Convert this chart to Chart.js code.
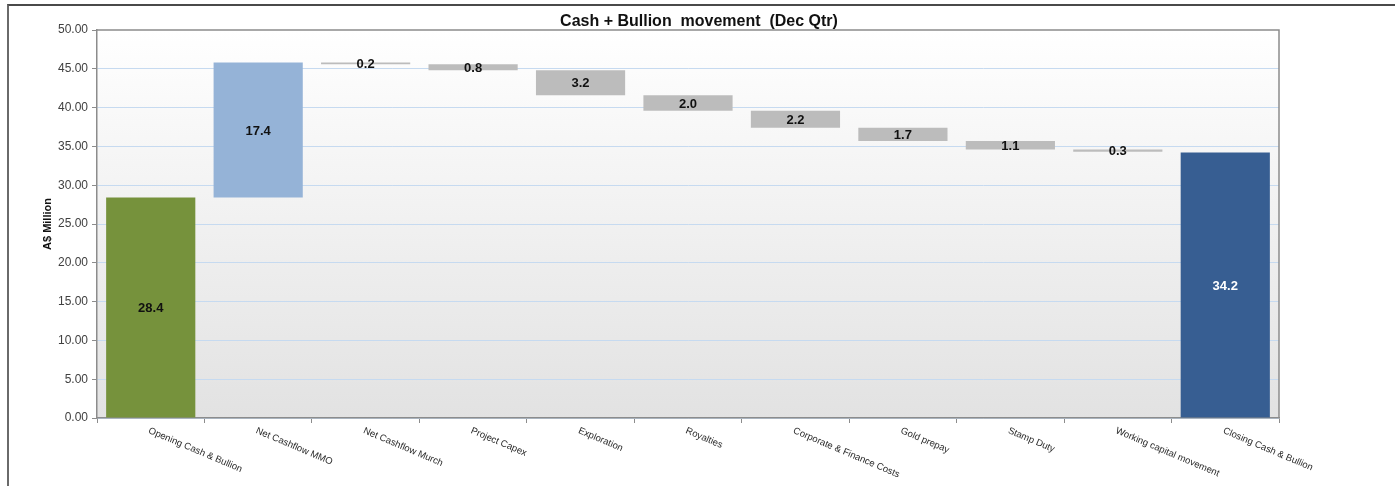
<!DOCTYPE html>
<html>
<head>
<meta charset="utf-8">
<script src="https://cdn.jsdelivr.net/npm/chart.js@4/dist/chart.umd.min.js"></script>
<style>
    body { margin: 0; background: #fff; }
    #wrap { position: relative; width: 1395px; height: 486px; }
    #frame { position: absolute; left: 7px; top: 4px; width: 1386px; height: 482px;
             border-top: 2px solid #4a4a4a; border-left: 2px solid #6a6a6a; pointer-events: none; }
</style>
</head>
<body>
<div id="wrap">
    <canvas id="waterfall" width="1395" height="486"></canvas>
    <div id="frame"></div>
</div>
<script>
const chartTitle = 'Cash + Bullion  movement  (Dec Qtr)';
const categories = [
    'Opening Cash & Bullion', 'Net Cashflow MMO', 'Net Cashflow Murch', 'Project Capex',
    'Exploration', 'Royalties', 'Corporate & Finance Costs', 'Gold prepay',
    'Stamp Duty', 'Working capital movement', 'Closing Cash & Bullion'
];
const openingBalance = 28.4;
const movements = [17.4, -0.2, -0.8, -3.2, -2.0, -2.2, -1.7, -1.1, -0.3];
const closingBalance = 34.2;
const yTickValues = [0, 5, 10, 15, 20, 25, 30, 35, 40, 45, 50];

document.addEventListener('DOMContentLoaded', () => {
    const FONT = 'Arial, "Liberation Sans", sans-serif';

    // floating [from, to] ranges for the waterfall
    const ranges = [[0, openingBalance]];
    let running = openingBalance;
    movements.forEach(m => {
        const next = Math.round((running + m) * 10) / 10;
        ranges.push([running, next]);
        running = next;
    });
    ranges.push([0, closingBalance]);
    const shownValues = [openingBalance, ...movements, closingBalance];

    const last = categories.length - 1;
    const barColor = i => {
        if (i === 0) return '#76923c';
        if (i === last) return '#375e92';
        return shownValues[i] >= 0 ? '#95b3d7' : '#bcbcbc';
    };

    const plotBackground = {
        id: 'plotBackground',
        beforeDraw(chart) {
            const { ctx, chartArea: a } = chart;
            const g = ctx.createLinearGradient(0, a.top, 0, a.bottom);
            g.addColorStop(0, '#ffffff');
            g.addColorStop(1, '#e2e2e2');
            ctx.save();
            ctx.fillStyle = g;
            ctx.fillRect(a.left, a.top, a.right - a.left, a.bottom - a.top);
            ctx.restore();
        }
    };

    const plotFrame = {
        id: 'plotFrame',
        afterDraw(chart) {
            const { ctx, chartArea: a } = chart;
            ctx.save();
            ctx.strokeStyle = '#8c8c8c';
            ctx.lineWidth = 1.5;
            ctx.beginPath();
            ctx.moveTo(a.left, a.top);
            ctx.lineTo(a.right, a.top);
            ctx.lineTo(a.right, a.bottom);
            ctx.stroke();

            // title is centred on the whole frame, not on the plot
            ctx.font = 'bold 16px ' + FONT;
            ctx.fillStyle = '#111111';
            ctx.textAlign = 'center';
            ctx.textBaseline = 'middle';
            ctx.fillText(chartTitle, 699, 22);
            ctx.restore();
        }
    };

    const barLabels = {
        id: 'barLabels',
        afterDatasetsDraw(chart) {
            const { ctx } = chart;
            const meta = chart.getDatasetMeta(0);
            ctx.save();
            ctx.font = 'bold 13px ' + FONT;
            ctx.textAlign = 'center';
            ctx.textBaseline = 'middle';
            meta.data.forEach((bar, i) => {
                ctx.fillStyle = i === last ? '#ffffff' : '#111111';
                ctx.fillText(Math.abs(shownValues[i]).toFixed(1), bar.x, (bar.y + bar.base) / 2 + 1);
            });
            ctx.restore();
        }
    };

    // x labels slant downwards to the right, starting at the category centre
    const slantedLabels = {
        id: 'slantedLabels',
        afterDraw(chart) {
            const { ctx } = chart;
            const x = chart.scales.x;
            ctx.save();
            ctx.font = '9.5px ' + FONT;
            ctx.fillStyle = '#2a2a2a';
            ctx.textAlign = 'left';
            ctx.textBaseline = 'top';
            categories.forEach((label, i) => {
                ctx.save();
                ctx.translate(x.getPixelForValue(i), x.top + 8);
                ctx.rotate(23 * Math.PI / 180);
                ctx.fillText(label, 0, 0);
                ctx.restore();
            });
            ctx.restore();
        }
    };

    new Chart(document.getElementById('waterfall'), {
        type: 'bar',
        data: {
            labels: categories,
            datasets: [{
                data: ranges,
                backgroundColor: categories.map((c, i) => barColor(i)),
                borderWidth: 0,
                barPercentage: 0.83,
                categoryPercentage: 1.0
            }]
        },
        options: {
            responsive: false,
            animation: false,
            layout: { padding: { left: 0, right: 116, top: 30, bottom: 0 } },
            plugins: {
                legend: { display: false },
                tooltip: { enabled: false },
                title: { display: false }
            },
            scales: {
                x: {
                    grid: { drawOnChartArea: false, tickLength: 5, tickColor: '#8c8c8c' },
                    border: { color: '#8c8c8c', width: 1.5 },
                    ticks: { display: false },
                    afterFit: s => { s.height = 68; }
                },
                y: {
                    min: 0,
                    max: 50,
                    afterBuildTicks: s => { s.ticks = yTickValues.map(v => ({ value: v })); },
                    grid: {
                        color: c => c.tick && c.tick.value === 50 ? 'rgba(0,0,0,0)' : '#c6daf0',
                        tickColor: '#8c8c8c',
                        tickLength: 5
                    },
                    border: { color: '#8c8c8c', width: 1.5 },
                    ticks: {
                        color: '#404040',
                        padding: 4,
                        font: { family: FONT, size: 12 },
                        callback: v => Number(v).toFixed(2)
                    },
                    title: {
                        display: true,
                        text: 'A$ Million',
                        color: '#111111',
                        font: { family: FONT, size: 11, weight: 'bold' },
                        padding: { top: 41, bottom: 0 }
                    },
                    afterFit: s => { s.width = 97; }
                }
            }
        },
        plugins: [plotBackground, plotFrame, barLabels, slantedLabels]
    });
});
</script>
</body>
</html>
